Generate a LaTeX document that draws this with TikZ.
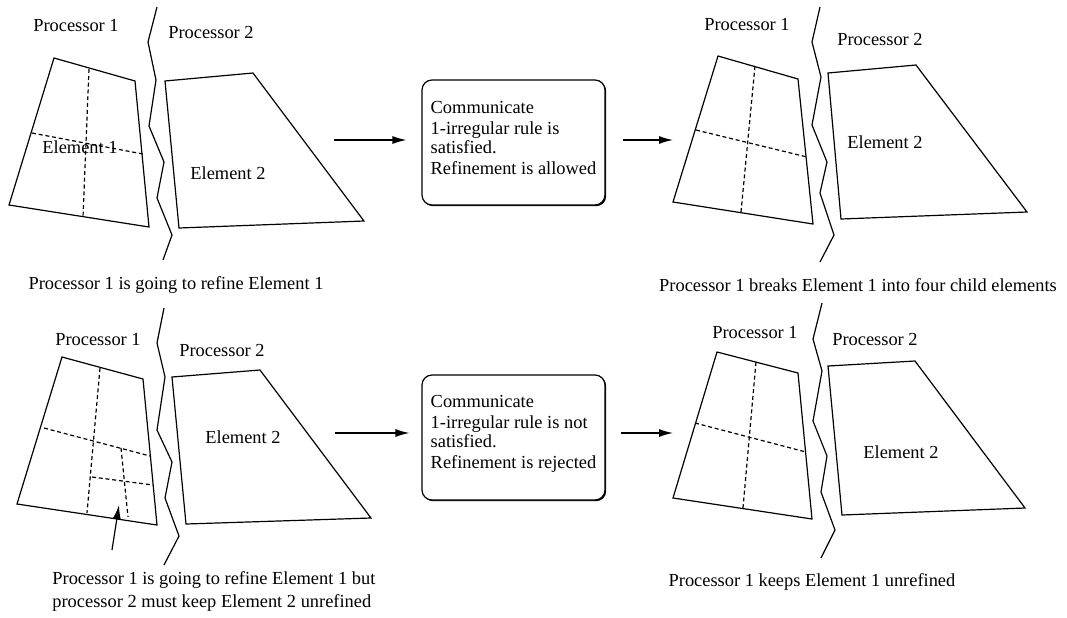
\documentclass[tikz,border=0pt]{standalone}
\usepackage{fontspec}
\setmainfont{Liberation Serif}
\usetikzlibrary{arrows.meta,shadows}

\begin{document}
\begin{tikzpicture}[x=0.5pt,y=-0.5pt,
  every node/.style={font=\fontsize{9.2}{11.5}\selectfont,inner sep=0pt},
  edgeline/.style={line width=0.6pt,line join=miter},
  cutline/.style={line width=0.6pt,dash pattern=on 2pt off 1.4pt},
  zigline/.style={line width=0.6pt},
  msg/.style={draw,rounded corners=5pt,line width=0.6pt,fill=white,
    minimum width=91.5pt,minimum height=62.5pt,align=left,
    font=\fontsize{9.2}{9.2}\selectfont,
    drop shadow={shadow xshift=0.6pt,shadow yshift=-0.6pt,opacity=1,fill=black}},
  flow/.style={-{Latex[length=7pt,width=4pt]},line width=0.6pt}]
\useasboundingbox (0,0) rectangle (1067,617);

% top left
\draw[edgeline] (54,58) -- (135,81) -- (149,227) -- (9,205) -- cycle;
\draw[cutline] (89,69) -- (83,217);
\draw[cutline] (32,133) -- (143,154);
\draw[edgeline] (165,81) -- (253,73) -- (364,221) -- (179,228) -- cycle;
\draw[zigline] (157,7) -- (148,42) -- (156,80) -- (149,126) -- (164,162) -- (157,198) -- (172,235) -- (163,260);
\node (procA1) at (76,26) {Processor 1};
\node (procA2) at (211,32) {Processor 2};
\node (elemA1) at (80,147) {Element 1};
\node (elemA2) at (228,173) {Element 2};
\node (capA) at (176,285) {Processor 1 is going to refine Element 1};

% top right
\draw[edgeline] (718,56) -- (798,79) -- (813,224) -- (673,202) -- cycle;
\draw[cutline] (755,66) -- (741,212);
\draw[cutline] (696,130) -- (807,157);
\draw[edgeline] (828,73) -- (916,65) -- (1027,212) -- (841,219) -- cycle;
\draw[zigline] (820,7) -- (812,42) -- (821,77) -- (812,125) -- (827,162) -- (820,193) -- (834,235) -- (820,262);
\node (procB1) at (747,25) {Processor 1};
\node (procB2) at (880,39) {Processor 2};
\node (elemB2) at (885,142) {Element 2};
\node (capB) at (858,285) {Processor 1 breaks Element 1 into four child elements};

% bottom left
\draw[edgeline] (62,357) -- (143,379) -- (157,525) -- (17,504) -- cycle;
\draw[cutline] (100,368) -- (87,513);
\draw[cutline] (44,428) -- (150,456);
\draw[cutline] (121,448) -- (128,517);
\draw[cutline] (92,477) -- (153,485);
\draw[edgeline] (172,377) -- (260,370) -- (371,518) -- (186,524) -- cycle;
\draw[zigline] (164,308) -- (157,343) -- (165,377) -- (157,430) -- (172,462) -- (165,498) -- (179,536) -- (164,565);
\node (procC1) at (98,340) {Processor 1};
\node (procC2) at (222,350) {Processor 2};
\node (elemC2) at (243,437) {Element 2};
\node[anchor=west,align=left] (capC) at (52,591) {Processor 1 is going to refine Element 1 but\\processor 2 must keep Element 2 unrefined};
\coordinate (tail) at (112,550);
\coordinate (tip) at (119,505);
\draw[flow] (tail) -- (tip);

% bottom right
\draw[edgeline] (717,352) -- (798,373) -- (812,519) -- (673,498) -- cycle;
\draw[cutline] (756,362) -- (743,508);
\draw[cutline] (695,423) -- (806,452);
\draw[edgeline] (828,366) -- (915,361) -- (1025,508) -- (842,515) -- cycle;
\draw[zigline] (822,303) -- (813,339) -- (822,371) -- (813,421) -- (827,456) -- (821,492) -- (835,530) -- (821,558);
\node (procD1) at (755,333) {Processor 1};
\node (procD2) at (875,339) {Processor 2};
\node (elemD2) at (901,452) {Element 2};
\node (capD) at (812,582) {Processor 1 keeps Element 1 unrefined};

% messages
\node[msg] (msgA) at (513.5,142.5) {Communicate\\[1.6pt]1-irregular rule is\\satisfied.\\[1.6pt]Refinement is allowed\\[-4.5pt]\mbox{}};
\node[msg] (msgB) at (513.5,437.5) {Communicate\\[1.6pt]1-irregular rule is not\\satisfied.\\[1.6pt]Refinement is rejected\\[-3.5pt]\mbox{}};
\coordinate (inA) at (334,140);
\coordinate (outA) at (673,140);
\coordinate (inB) at (335,433);
\coordinate (outB) at (673,433);
\draw[flow,shorten >=7.5pt] (inA) -- (inA -| msgA.west);
\draw[flow,shorten <=8.5pt] (inA -| msgA.east) -- (outA);
\draw[flow,shorten >=6pt] (inB) -- (inB -| msgB.west);
\draw[flow,shorten <=7.5pt] (inB -| msgB.east) -- (outB);
\end{tikzpicture}
\end{document}
